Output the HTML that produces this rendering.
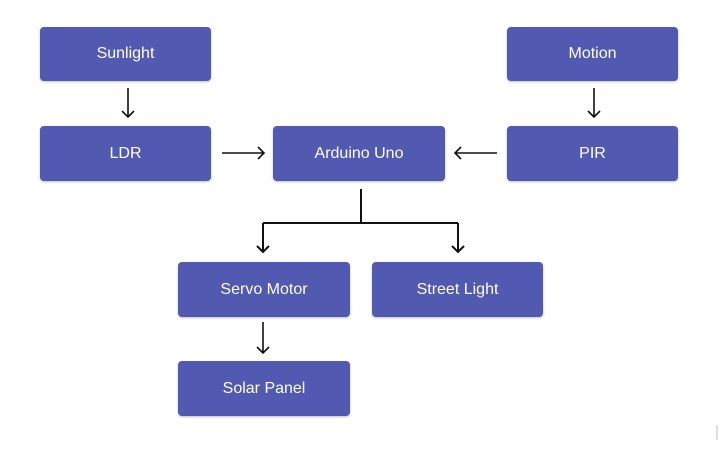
<!DOCTYPE html>
<html><head><style>
body{margin:0;width:724px;height:449px;background:#fff;position:relative;overflow:hidden;font-family:"Liberation Sans",sans-serif}
.b{position:absolute;background:#5159b0;color:#fff;border-radius:4px;display:flex;align-items:center;justify-content:center;font-size:16px;box-shadow:0 1px 2px rgba(0,0,0,.25)}
svg{position:absolute;left:0;top:0}
</style></head><body>
<div class="b" style="left:40px;top:27px;width:171px;height:54px">Sunlight</div>
<div class="b" style="left:40px;top:126px;width:171px;height:55px">LDR</div>
<div class="b" style="left:273px;top:126px;width:172px;height:55px">Arduino Uno</div>
<div class="b" style="left:507px;top:27px;width:171px;height:54px">Motion</div>
<div class="b" style="left:507px;top:126px;width:171px;height:55px">PIR</div>
<div class="b" style="left:178px;top:262px;width:172px;height:55px">Servo Motor</div>
<div class="b" style="left:372px;top:262px;width:171px;height:55px">Street Light</div>
<div class="b" style="left:178px;top:361px;width:172px;height:55px">Solar Panel</div>
<svg width="724" height="449" fill="none" stroke="#111" stroke-width="1.6">
<path d="M128 88V117M122 111L128 117L134 111"/>
<path d="M594 88V117M588 111L594 117L600 111"/>
<path d="M222 153H264M258 147L264 153L258 159"/>
<path d="M497 153H455M461 147L455 153L461 159"/>
<path d="M361 189V223M263 223H458M263 223V252M257 246L263 252L269 246M458 223V252M452 246L458 252L464 246" stroke-width="2"/>
<path d="M263 322V353M257 347L263 353L269 347"/>
<path d="M717 425V440" stroke="#bbb" stroke-width="1"/>
</svg>
</body></html>
